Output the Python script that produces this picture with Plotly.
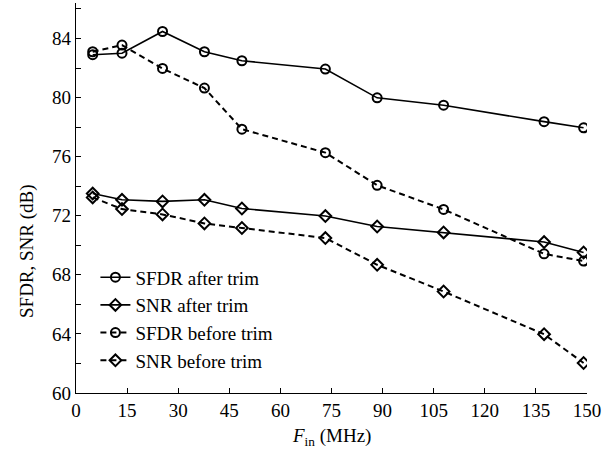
import plotly.graph_objects as go

fin = [4.9, 13.5, 25.4, 37.7, 48.7, 73.2, 88.4, 107.9, 137.4, 149.0]
sfdr_after = [82.9, 83.0, 84.47, 83.1, 82.49, 81.93, 79.98, 79.48, 78.37, 77.95]
snr_after = [73.5, 73.08, 72.97, 73.08, 72.49, 71.98, 71.27, 70.87, 70.22, 69.51]
sfdr_before = [83.1, 83.55, 81.97, 80.64, 77.86, 76.27, 74.06, 72.43, 69.42, 68.93]
snr_before = [73.24, 72.45, 72.09, 71.48, 71.17, 70.49, 68.68, 66.87, 63.98, 62.03]

x_ticks = [0, 15, 30, 45, 60, 75, 90, 105, 120, 135, 150]
y_ticks = [60, 64, 68, 72, 76, 80, 84]

FONT = "Liberation Serif, Times New Roman, serif"

series = [
    ("SFDR after trim", sfdr_after, "circle-open", "solid", 1.6),
    ("SNR after trim", snr_after, "diamond-open", "solid", 1.6),
    ("SFDR before trim", sfdr_before, "circle-open", "6px,4px", 2.0),
    ("SNR before trim", snr_before, "diamond-open", "6px,4px", 2.0),
]

fig = go.Figure()
for name, vals, sym, dash, lw in series:
    fig.add_trace(go.Scatter(
        x=fin, y=vals, name=name, mode="lines+markers",
        line=dict(color="black", width=lw, dash=dash),
        marker=dict(symbol=sym, size=9, color="black", line=dict(width=2, color="black")),
    ))

fig.update_layout(
    width=615, height=450,
    margin=dict(l=76, r=28, t=3, b=57),
    paper_bgcolor="white", plot_bgcolor="white",
    font=dict(family=FONT, size=19, color="black"),
    showlegend=True,
    legend=dict(x=0.038, y=0.035, xanchor="left", yanchor="bottom",
                bgcolor="rgba(0,0,0,0)", font=dict(size=19, family=FONT),
                itemwidth=30, tracegroupgap=0),
    xaxis=dict(
        range=[0, 150], tickvals=x_ticks, ticktext=[str(v) for v in x_ticks],
        ticks="inside", ticklen=5, tickwidth=1, tickcolor="black",
        showline=True, linecolor="black", linewidth=1.2,
        showgrid=False, zeroline=False, mirror=False, automargin=False,
        tickfont=dict(size=19, family=FONT),
    ),
    yaxis=dict(
        range=[60, 86.4], tickvals=y_ticks, ticktext=[str(v) for v in y_ticks],
        ticks="inside", ticklen=5, tickwidth=1, tickcolor="black",
        minor=dict(tickvals=[62, 66, 70, 74, 78, 82, 86], ticks="inside", ticklen=5, tickcolor="black", showgrid=False),
        showline=True, linecolor="black", linewidth=1.2,
        showgrid=False, zeroline=False, mirror=False, automargin=False,
        tickfont=dict(size=19, family=FONT),
    ),
    annotations=[
        dict(text="<i>F</i><sub>in</sub> (MHz)", xref="paper", yref="paper",
             x=0.5, y=-0.113, xanchor="center", yanchor="middle", showarrow=False,
             font=dict(size=19, family=FONT)),
        dict(text="SFDR, SNR (dB)", xref="paper", yref="paper", textangle=-90,
             x=-0.096, y=0.364, xanchor="center", yanchor="middle", showarrow=False,
             font=dict(size=19, family=FONT)),
    ],
)

fig.write_html("out.html", config={"displayModeBar": False},
               post_script="document.body.style.margin='0';document.body.style.overflow='hidden';")
